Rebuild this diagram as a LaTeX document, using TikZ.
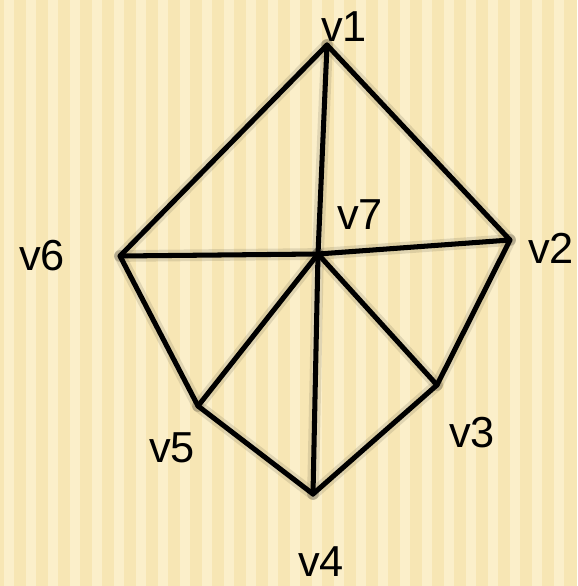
\documentclass[tikz,border=0pt]{standalone}
\usepackage{fontspec}
\setmainfont{Liberation Sans}
\usepackage{tikz}
\usetikzlibrary{positioning, calc}
\definecolor{paper}{HTML}{F7E6B4}
\definecolor{stripe}{HTML}{FBEFCA}

\begin{document}
\begin{tikzpicture}[x=0.03cm, y=-0.03cm,
    vlabel/.style={font=\fontsize{37}{42}\selectfont, inner sep=0pt},
    edge/.style={line width=4.3pt, line cap=round, line join=round},
    shade/.style={line width=10pt, draw=black!70!paper, opacity=0.15, line cap=round}
  ]
  % background
  \useasboundingbox (0,0) rectangle (577,586);
  \clip (0,0) rectangle (577,586);
  \fill[paper] (0,0) rectangle (577,586);
  \foreach \x in {4,26,...,570}
    \fill[stripe] (\x,0) rectangle ++(10,586);

  % vertices
  \coordinate (v1) at (327,45);
  \coordinate (v2) at (510,240);
  \coordinate (v3) at (437,385);
  \coordinate (v4) at (313,494);
  \coordinate (v5) at (198,406);
  \coordinate (v6) at (120,256);
  \coordinate (v7) at (318,254);

  % labels
  \node[vlabel] (l1) at (344,27) {v1};
  \node[vlabel] (l2) at (551,248) {v2};
  \node[vlabel] (l3) at (472,433) {v3};
  \node[vlabel] (l4) at (321,562) {v4};
  \node[vlabel] (l5) at (172,448) {v5};
  \node[vlabel] (l6) at (42,256) {v6};
  \node[vlabel] (l7) at (360,215) {v7};

  % shadows
  \begin{scope}[shift={(2,7)}]
    \foreach \a/\b in {v1/v2, v2/v3, v3/v4, v4/v5, v5/v6, v6/v1, v7/v1, v7/v2, v7/v3, v7/v4, v7/v5, v7/v6}
      \draw[shade] (\a) -- (\b);
  \end{scope}

  % edges
  \draw[edge] (v1) -- (v2) -- (v3) -- (v4) -- (v5) -- (v6) -- cycle;
  \foreach \v in {v1, v2, v3, v4, v5, v6}
    \draw[edge] (v7) -- (\v);
\end{tikzpicture}
\end{document}
